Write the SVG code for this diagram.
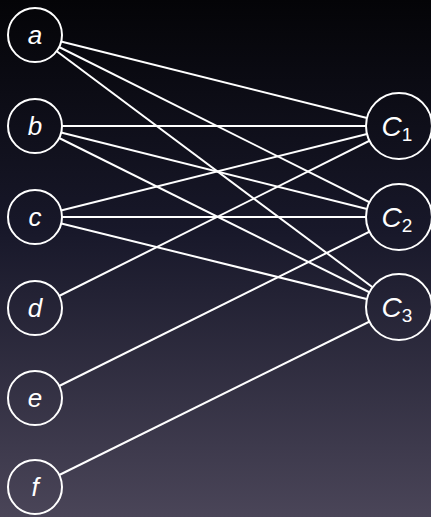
<svg xmlns="http://www.w3.org/2000/svg" width="431" height="517" viewBox="0 0 431 517">
<defs>
<linearGradient id="bg" gradientUnits="userSpaceOnUse" x1="0" y1="0" x2="0" y2="517">
<stop offset="0" stop-color="#040407"/>
<stop offset="0.45" stop-color="#18182a"/>
<stop offset="1" stop-color="#4a4558"/>
</linearGradient>
<style>
.n circle{fill:url(#bg);stroke:#fff;stroke-width:2}
.l{font-family:"Liberation Sans",Arial,sans-serif;font-style:italic;font-size:26px;fill:#fff;text-anchor:middle}
.c{font-family:"Liberation Sans",Arial,sans-serif;font-style:italic;font-size:28px;fill:#fff;text-anchor:middle}
.s{font-style:normal;font-size:19px}
#edges line{stroke:#fff;stroke-width:2}
</style>
</defs>
<rect width="431" height="517" fill="url(#bg)"/>
<g id="edges">
<line x1="35" y1="35" x2="399" y2="126"/>
<line x1="35" y1="35" x2="399" y2="217"/>
<line x1="35" y1="35" x2="399" y2="307"/>
<line x1="35" y1="126" x2="399" y2="126"/>
<line x1="35" y1="126" x2="399" y2="217"/>
<line x1="35" y1="126" x2="399" y2="307"/>
<line x1="35" y1="217" x2="399" y2="126"/>
<line x1="35" y1="217" x2="399" y2="217"/>
<line x1="35" y1="217" x2="399" y2="307"/>
<line x1="35" y1="308" x2="399" y2="126"/>
<line x1="35" y1="398" x2="399" y2="217"/>
<line x1="35" y1="487" x2="399" y2="307"/>
</g>
<g id="a" class="n"><circle cx="35" cy="35" r="27"/><text class="l" x="35" y="44">a</text></g>
<g id="b" class="n"><circle cx="35" cy="126" r="27"/><text class="l" x="35" y="135">b</text></g>
<g id="c" class="n"><circle cx="35" cy="217" r="27"/><text class="l" x="35" y="226">c</text></g>
<g id="d" class="n"><circle cx="35" cy="308" r="27"/><text class="l" x="35" y="317">d</text></g>
<g id="e" class="n"><circle cx="35" cy="398" r="27"/><text class="l" x="35" y="407">e</text></g>
<g id="f" class="n"><circle cx="35" cy="487" r="27"/><text class="l" x="35" y="496">f</text></g>
<g id="C1" class="n"><circle cx="399" cy="126" r="33"/><text class="c" x="397" y="136">C<tspan class="s" dy="5">1</tspan></text></g>
<g id="C2" class="n"><circle cx="399" cy="217" r="33"/><text class="c" x="397" y="227">C<tspan class="s" dy="5">2</tspan></text></g>
<g id="C3" class="n"><circle cx="399" cy="307" r="33"/><text class="c" x="397" y="317">C<tspan class="s" dy="5">3</tspan></text></g>
</svg>
